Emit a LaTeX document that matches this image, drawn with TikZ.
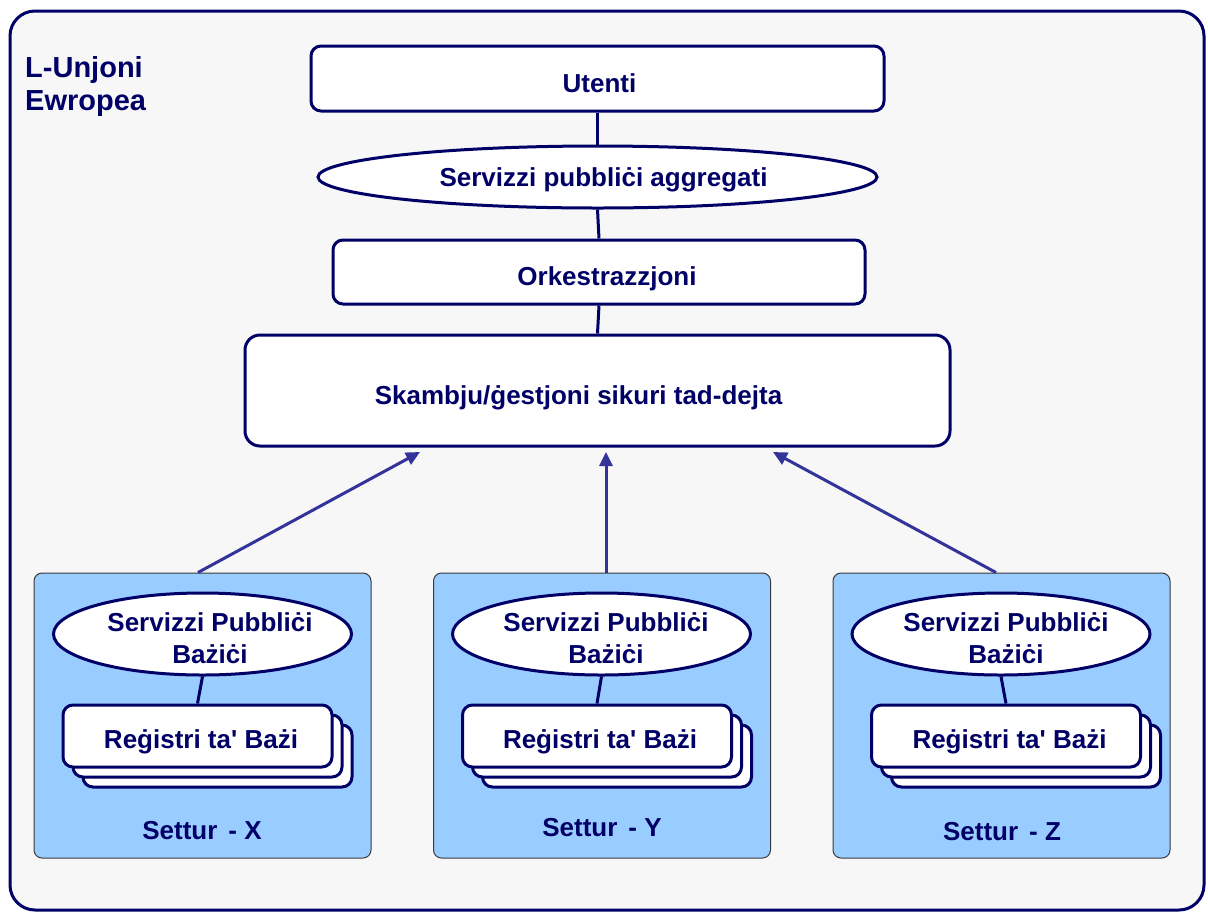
\documentclass[tikz,border=0pt]{standalone}
\usepackage{fontspec}
\setmainfont{Liberation Sans}
\usetikzlibrary{shapes.geometric,arrows.meta,calc}
\definecolor{navy}{HTML}{000066}
\definecolor{arrowblue}{HTML}{333399}
\definecolor{sectorblue}{HTML}{99CCFF}
\definecolor{framebg}{HTML}{F7F7F7}
\definecolor{sectorborder}{HTML}{3A3A3A}
\newcommand{\twolines}[3]{\hspace*{#1}\begin{tabular}{@{}c@{}}#2\\#3\end{tabular}}
\begin{document}
\begin{tikzpicture}[x=1pt,y=-1pt,
  every node/.style={font=\fontsize{26}{32}\selectfont\bfseries, text=navy},
  rbox/.style={draw=navy, line width=3pt, fill=white, rounded corners=10pt, inner sep=0pt, text height=27pt, text depth=0pt},
  ell/.style={ellipse, draw=navy, line width=3pt, fill=white, inner sep=0pt},
  sector/.style={draw=sectorborder, line width=1pt, fill=sectorblue, rounded corners=8pt, inner sep=0pt, minimum width=337pt, minimum height=285pt},
  regbox/.style={rbox, minimum width=269pt, minimum height=62pt, text height=24pt},
  sellipse/.style={ell, inner xsep=-10pt, minimum width=298pt, minimum height=82pt, text height=26pt, text depth=0pt},
  link/.style={draw=navy, line width=3pt},
  flow/.style={draw=arrowblue, line width=3pt, -{Triangle[length=14pt,width=13pt]}}]
\useasboundingbox (0,0) rectangle (1208,914);
\draw[navy, line width=3pt, fill=framebg, rounded corners=25pt] (10,11) rectangle (1204,910);
\node[anchor=north west, align=left, inner sep=0pt, font=\fontsize{29}{33}\selectfont\bfseries] (eu) at (25,56) {L-Unjoni\\Ewropea};

% top stack
\node[rbox, minimum width=573pt, minimum height=65pt] (ut) at (597.5,78.5) {\hspace*{4pt}Utenti};
\node[ell, minimum width=559pt, minimum height=62pt, text height=19pt, text depth=0pt] (agg) at (597.5,177) {\hspace*{12pt}Servizzi pubbliċi aggregati};
\node[rbox, minimum width=532pt, minimum height=64pt] (ork) at (599,272) {\hspace*{16pt}Orkestrazzjoni};
\node[rbox, rounded corners=15pt, minimum width=705pt, minimum height=111pt] (sk) at (597.5,390.5) {Skambju/ġestjoni sikuri tad-dejta\hspace*{38pt}};
\draw[link] (ut.south) -- (agg.north);
\draw[link] (agg.south) -- (ork.north);
\draw[link] (ork.south) -- (sk.north);

% sectors
\node[sector] (secX) at (202.5,715.5) {};
\node[sector] (secY) at (602,715.5) {};
\node[sector] (secZ) at (1001.5,715.5) {};

% sector X
\node[sellipse] (sbX) at (202.5,634) {\twolines{15pt}{Servizzi Pubbliċi}{Bażiċi}};
\node[regbox] (rX3) at (217.5,756) {};
\node[regbox] (rX2) at (207.5,746) {};
\node[regbox] (rX) at (197.5,736) {\hspace*{7pt}Reġistri ta\textquotesingle{} Bażi};
\draw[link] (sbX.south) -- (rX.north);
\node (lX) at (202,831) {Settur\hspace{11pt}- X};

% sector Y
\node[sellipse] (sbY) at (601.5,634) {\twolines{9pt}{Servizzi Pubbliċi}{Bażiċi}};
\node[regbox] (rY3) at (617,756) {};
\node[regbox] (rY2) at (607,746) {};
\node[regbox] (rY) at (597,736) {\hspace*{6pt}Reġistri ta\textquotesingle{} Bażi};
\draw[link] (sbY.south) -- (rY.north);
\node (lY) at (602,828) {Settur\hspace{11pt}- Y};

% sector Z
\node[sellipse] (sbZ) at (1001,634) {\twolines{10pt}{Servizzi Pubbliċi}{Bażiċi}};
\node[regbox] (rZ3) at (1026,756) {};
\node[regbox] (rZ2) at (1016,746) {};
\node[regbox] (rZ) at (1006,736) {\hspace*{7pt}Reġistri ta\textquotesingle{} Bażi};
\draw[link] (sbZ.south) -- (rZ.north);
\node (lZ) at (1002,832) {Settur\hspace{11pt}- Z};

% arrows
\coordinate (tX) at (420,452);
\coordinate (tY) at (606,452);
\coordinate (tZ) at (773,452);
\draw[flow] ($(secX.north)+(-4.5,0)$) -- (tX);
\draw[flow] ($(secY.north)+(4,0)$) -- (tY);
\draw[flow] ($(secZ.north)+(-5.5,0)$) -- (tZ);
\end{tikzpicture}
\end{document}
